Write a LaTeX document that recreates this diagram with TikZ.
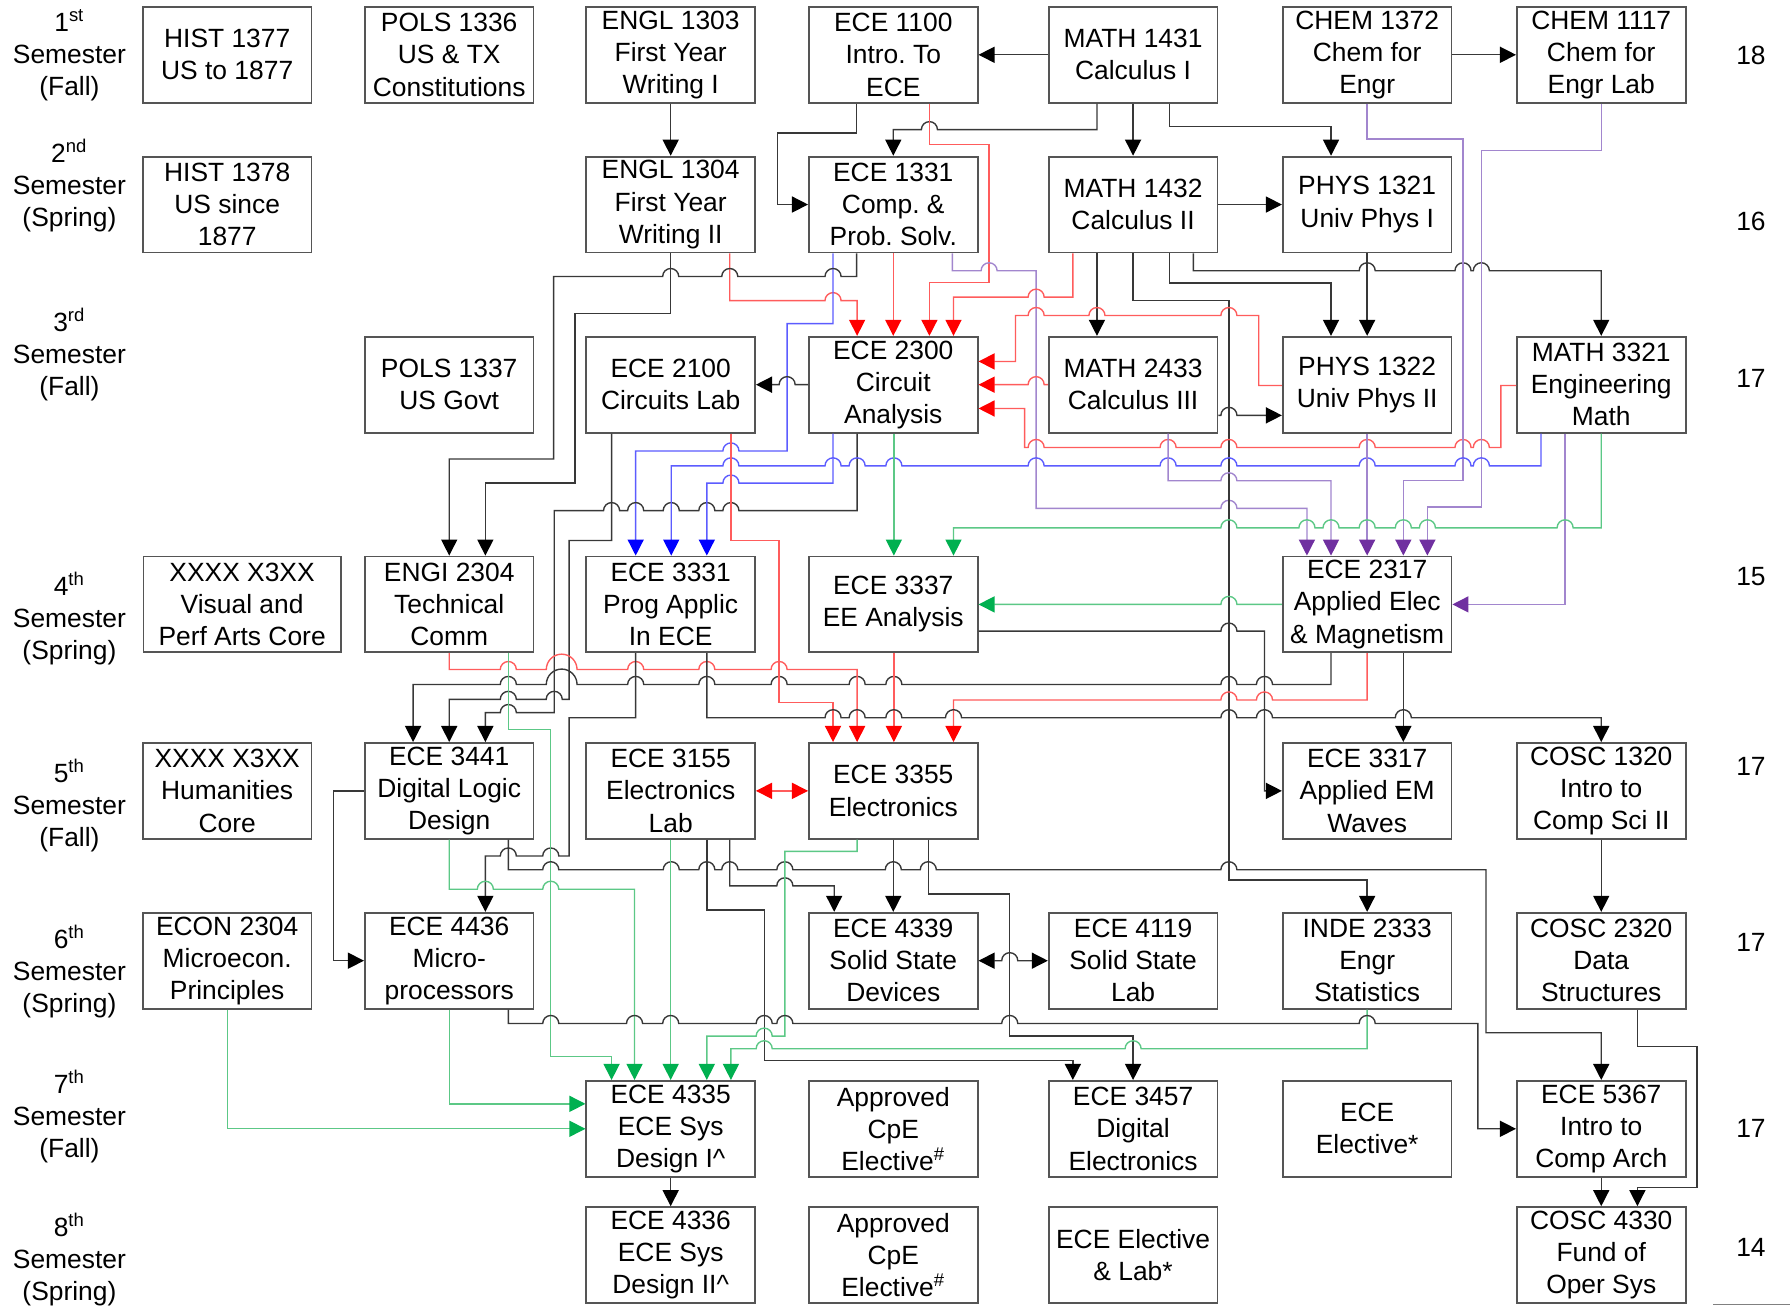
\documentclass[tikz,border=0pt]{standalone}
\usepackage{fontspec}
\setmainfont{Liberation Sans}
\usetikzlibrary{arrows.meta}
\frenchspacing
\definecolor{kc}{HTML}{383838}
\definecolor{bc}{HTML}{555555}
\definecolor{rc}{HTML}{FF5C5C}
\definecolor{rh}{HTML}{FF0000}
\definecolor{blc}{HTML}{5C5CFF}
\definecolor{blh}{HTML}{0000FF}
\definecolor{gc}{HTML}{5CC886}
\definecolor{gh}{HTML}{00B050}
\definecolor{pc}{HTML}{A286CE}
\definecolor{ph}{HTML}{7030A0}
\newcommand\cfont{\fontsize{11.5pt}{14pt}\selectfont\frenchspacing}
% hops on horizontal lines: right-going and left-going
\newcommand\hR[2]{-- ({#1-7},#2) arc[start angle=180,end angle=0,radius=3.5pt]}
\newcommand\hL[2]{-- ({#1+7},#2) arc[start angle=0,end angle=180,radius=3.5pt]}
\newcommand\hRb[2]{-- ({#1-13.4},#2) arc[start angle=180,end angle=0,radius=6.7pt]}
\newcommand\hLb[2]{-- ({#1+13.4},#2) arc[start angle=0,end angle=180,radius=6.7pt]}
\tikzset{
  box/.style={draw=bc, line width=0.8pt, minimum width=73.5pt, minimum height=41.75pt, inner sep=0pt, align=center, font=\cfont},
  lbl/.style={inner sep=0pt, align=center, font=\cfont},
  karr/.style={draw=kc, line width=0.6pt, -{Triangle[length=7pt,width=7pt,color=black]}},
  kdarr/.style={draw=kc, line width=0.6pt, {Triangle[length=7pt,width=7pt,color=black]}-{Triangle[length=7pt,width=7pt,color=black]}},
  rarr/.style={draw=rc, line width=0.6pt, -{Triangle[length=7pt,width=7pt,color=rh]}},
  rdarr/.style={draw=rc, line width=0.6pt, {Triangle[length=7pt,width=7pt,color=rh]}-{Triangle[length=7pt,width=7pt,color=rh]}},
  barr/.style={draw=blc, line width=0.6pt, -{Triangle[length=7pt,width=7pt,color=blh]}},
  garr/.style={draw=gc, line width=0.6pt, -{Triangle[length=7pt,width=7pt,color=gh]}},
  parr/.style={draw=pc, line width=0.6pt, -{Triangle[length=7pt,width=7pt,color=ph]}},
}
\begin{document}
\begin{tikzpicture}[x=0.5pt,y=-0.5pt]
\fill[white] (0,0) rectangle (1560,1140);
\useasboundingbox (0,0) rectangle (1560,1140);

% semester labels
\node[lbl] (s1) at (60.5,48) {1\textsuperscript{st}\\Semester\\(Fall)};
\node[lbl] (s2) at (60.5,162) {2\textsuperscript{nd}\\Semester\\(Spring)};
\node[lbl] (s3) at (60.5,309) {3\textsuperscript{rd}\\Semester\\(Fall)};
\node[lbl] (s4) at (60.5,539) {4\textsuperscript{th}\\Semester\\(Spring)};
\node[lbl] (s5) at (60.5,702) {5\textsuperscript{th}\\Semester\\(Fall)};
\node[lbl] (s6) at (60.5,847) {6\textsuperscript{th}\\Semester\\(Spring)};
\node[lbl] (s7) at (60.5,973) {7\textsuperscript{th}\\Semester\\(Fall)};
\node[lbl] (s8) at (60.5,1098) {8\textsuperscript{th}\\Semester\\(Spring)};

% credits
\node[lbl] (c1) at (1526,48) {18};
\node[lbl] (c2) at (1526,193) {16};
\node[lbl] (c3) at (1526,330) {17};
\node[lbl] (c4) at (1526,502.5) {15};
\node[lbl] (c5) at (1526,668) {17};
\node[lbl] (c6) at (1526,821) {17};
\node[lbl] (c7) at (1526,983) {17};
\node[lbl] (c8) at (1526,1087) {14};
\draw[draw=gray, line width=0.5pt] (1493,1137) -- (1560,1137);

% row 1
\node[box] (hist1377) at (198,47.75) {HIST 1377\\US to 1877};
\node[box] (pols1336) at (391.5,47.75) {POLS 1336\\US \& TX\\Constitutions};
\node[box] (engl1303) at (584.5,47.75) {ENGL 1303\\First Year\\Writing I};
\node[box] (ece1100) at (778.5,47.75) {ECE 1100\\Intro. To\\ECE};
\node[box] (math1431) at (987.5,47.75) {MATH 1431\\Calculus I};
\node[box] (chem1372) at (1191.5,47.75) {CHEM 1372\\Chem for\\Engr};
\node[box] (chem1117) at (1395.5,47.75) {CHEM 1117\\Chem for\\Engr Lab};
% row 2
\node[box] (hist1378) at (198,178.25) {HIST 1378\\US since\\1877};
\node[box] (engl1304) at (584.5,178.25) {ENGL 1304\\First Year\\Writing II};
\node[box] (ece1331) at (778.5,178.25) {ECE 1331\\Comp. \&\\Prob. Solv.};
\node[box] (math1432) at (987.5,178.25) {MATH 1432\\Calculus II};
\node[box] (phys1321) at (1191.5,178.25) {PHYS 1321\\Univ Phys I};
% row 3
\node[box] (pols1337) at (391.5,335.25) {POLS 1337\\US Govt};
\node[box] (ece2100) at (584.5,335.25) {ECE 2100\\Circuits Lab};
\node[box] (ece2300) at (778.5,335.25) {ECE 2300\\Circuit\\Analysis};
\node[box] (math2433) at (987.5,335.25) {MATH 2433\\Calculus III};
\node[box] (phys1322) at (1191.5,335.25) {PHYS 1322\\Univ Phys II};
\node[box] (math3321) at (1395.5,335.25) {MATH 3321\\Engineering\\Math};
% row 4
\node[box, minimum width=86pt] (vpa) at (211,526.75) {XXXX X3XX\\Visual and\\Perf Arts Core};
\node[box] (engi2304) at (391.5,526.75) {ENGI 2304\\Technical\\Comm};
\node[box] (ece3331) at (584.5,526.75) {ECE 3331\\Prog Applic\\In ECE};
\node[box] (ece3337) at (778.5,526.75) {ECE 3337\\EE Analysis};
\node[box] (ece2317) at (1191.5,526.75) {ECE 2317\\Applied Elec\\\& Magnetism};
% row 5
\node[box] (hum) at (198,689.25) {XXXX X3XX\\Humanities\\Core};
\node[box] (ece3441) at (391.5,689.25) {ECE 3441\\Digital Logic\\Design};
\node[box] (ece3155) at (584.5,689.25) {ECE 3155\\Electronics\\Lab};
\node[box] (ece3355) at (778.5,689.25) {ECE 3355\\Electronics};
\node[box] (ece3317) at (1191.5,689.25) {ECE 3317\\Applied EM\\Waves};
\node[box] (cosc1320) at (1395.5,689.25) {COSC 1320\\Intro to\\Comp Sci II};
% row 6
\node[box] (econ2304) at (198,837.25) {ECON 2304\\Microecon.\\Principles};
\node[box] (ece4436) at (391.5,837.25) {ECE 4436\\Micro-\\processors};
\node[box] (ece4339) at (778.5,837.25) {ECE 4339\\Solid State\\Devices};
\node[box] (ece4119) at (987.5,837.25) {ECE 4119\\Solid State\\Lab};
\node[box] (inde2333) at (1191.5,837.25) {INDE 2333\\Engr\\Statistics};
\node[box] (cosc2320) at (1395.5,837.25) {COSC 2320\\Data\\Structures};
% row 7
\node[box] (ece4335) at (584.5,983.75) {ECE 4335\\ECE Sys\\Design I\textasciicircum};
\node[box] (cpe1) at (778.5,983.75) {Approved\\CpE\\Elective\textsuperscript{\#}};
\node[box] (ece3457) at (987.5,983.75) {ECE 3457\\Digital\\Electronics};
\node[box] (eceel) at (1191.5,983.75) {ECE\\Elective*};
\node[box] (ece5367) at (1395.5,983.75) {ECE 5367\\Intro to\\Comp Arch};
% row 8
\node[box] (ece4336) at (584.5,1093.75) {ECE 4336\\ECE Sys\\Design II\textasciicircum};
\node[box] (cpe2) at (778.5,1093.75) {Approved\\CpE\\Elective\textsuperscript{\#}};
\node[box] (eceellab) at (987.5,1093.75) {ECE Elective\\\& Lab*};
\node[box] (cosc4330) at (1395.5,1093.75) {COSC 4330\\Fund of\\Oper Sys};

% ---------- connectors ----------
\draw[karr] (math1431.west) -- (ece1100.east);
\draw[karr] (chem1372.east) -- (chem1117.west);
\draw[karr] (engl1303.south) -- (engl1304.north);
\draw[karr] (ece1100.south -| 746.5,0) -- (746.5,116) -- (677.5,116) -- (677.5,178.25) -- (ece1331.west);
\draw[karr] (math1431.south -| 956,0) -- (956,113) \hL{810}{113} -- (778.5,113) -- (ece1331.north);
\draw[karr] (math1431.south) -- (math1432.north);
\draw[karr] (math1431.south -| 1019,0) -- (1019,110) -- (1160,110) -- (phys1321.north -| 1160,0);
\draw[rarr] (ece1100.south -| 810,0) -- (810,126) -- (862,126) -- (862,246) -- (810,246) -- (ece2300.north -| 810,0);
\draw[rarr] (engl1304.south -| 636,0) -- (636,262) \hR{726}{262} -- (747,262) -- (ece2300.north -| 747,0);
\draw[rarr] (ece1331.south) -- (ece2300.north);
\draw[barr] (ece1331.south -| 726,0) -- (726,282) -- (686,282) -- (686,393) \hL{637}{393} -- (554,393) -- (ece3331.north -| 554,0);
\draw[karr] (ece1331.south -| 746.5,0) -- (746.5,241) \hL{726}{241} \hL{636}{241} \hL{584.5}{241} -- (482.5,241) -- (482.5,400) -- (391.5,400) -- (engi2304.north -| 391.5,0);
\draw[karr] (engl1304.south) -- (584.5,273) -- (501,273) -- (501,421) -- (423,421) -- (engi2304.north -| 423,0);
\draw[karr] (ece2300.west) \hL{686}{335.25} -- (ece2100.east);
\draw[parr] (ece1331.south -| 830,0) -- (830,236) \hR{862}{236} -- (903,236) -- (903,443) \hR{1071}{443} -- (1139,443) -- (ece2317.north -| 1139,0);
\draw[rarr] (math1432.south -| 935,0) -- (935,259) \hL{903}{259} -- (831,259) -- (ece2300.north -| 831,0);
\draw[karr] (math1432.south -| 956,0) -- (math2433.north -| 956,0);
\draw[karr] (math1432.south) -- (987.5,262) -- (1071,262) -- (1071,767) -- (1191.5,767) -- (inde2333.north);
\draw[karr] (math1432.south -| 1019,0) -- (1019,246.5) -- (1160,246.5) -- (phys1322.north -| 1160,0);
\draw[karr] (math1432.south -| 1040,0) -- (1040,236) \hR{1191.5}{236} \hR{1275}{236} \hR{1291}{236} -- (1395.5,236) -- (math3321.north);
\draw[karr] (math1432.east) -- (phys1321.west);
\draw[karr] (phys1321.south) -- (phys1322.north);
\draw[rarr] (phys1322.west |- 0,336) -- (1097,336) -- (1097,275) \hL{1071}{275} \hL{956}{275} \hL{903}{275} -- (885,275) -- (885,315) -- (ece2300.east |- 0,315);
\draw[rarr] (math2433.west) \hL{903}{335.25} -- (ece2300.east);
\draw[rarr] (math3321.west |- 0,336) -- (1308,336) -- (1308,390) \hL{1291}{390} \hL{1275}{390} \hL{1191.5}{390} \hL{1071}{390} \hL{1018}{390} \hL{903}{390} -- (893,390) -- (893,356) -- (ece2300.east |- 0,356);
\draw[karr] (math2433.east |- 0,362) \hR{1071}{362} -- (phys1322.west |- 0,362);
\draw[parr] (chem1372.south) -- (1191.5,121) -- (1275,121) -- (1275,419) -- (1223,419) -- (ece2317.north -| 1223,0);
\draw[parr] (chem1117.south) -- (1395.5,131) -- (1291,131) -- (1291,442) -- (1244,442) -- (ece2317.north -| 1244,0);
\draw[karr] (ece2100.south -| 533,0) -- (533,471) -- (496,471) -- (496,609.5) \hL{483}{609.5} \hL{443}{609.5} -- (391.5,609.5) -- (ece3441.north -| 391.5,0);
\draw[karr] (ece2300.south -| 747,0) -- (747,445) \hL{637}{445} \hL{616}{445} \hL{585}{445} \hL{554}{445} \hL{533}{445} -- (483,445) -- (483,621) \hL{443}{621} -- (423,621) -- (ece3441.north -| 423,0);
\draw[barr] (ece2300.south -| 726,0) -- (726,421) \hL{637}{421} -- (616,421) -- (ece3331.north -| 616,0);
\draw[barr] (math3321.south -| 1343,0) -- (1343,406) \hL{1291}{406} \hL{1275}{406} \hL{1191.5}{406} \hL{1071}{406} \hL{1018}{406} \hL{903}{406} \hL{779}{406} \hL{747}{406} \hL{726}{406} \hL{637}{406} -- (585,406) -- (ece3331.north -| 585,0);
\draw[parr] (math2433.south -| 1018,0) -- (1018,419) \hR{1071}{419} -- (1160,419) -- (ece2317.north -| 1160,0);
\draw[parr] (phys1322.south) -- (ece2317.north);
\draw[parr] (math3321.south -| 1364,0) -- (1364,526.75) -- (ece2317.east);
\draw[garr] (math3321.south) -- (1395.5,460) \hL{1364}{460} \hL{1244}{460} \hL{1223}{460} \hL{1191.5}{460} \hL{1160}{460} \hL{1139}{460} \hL{1071}{460} -- (831,460) -- (ece3337.north -| 831,0);
\draw[garr] (ece2300.south -| 779,0) -- (ece3337.north -| 779,0);
\draw[garr] (ece2317.west) \hL{1071}{526.75} -- (ece3337.east);
\draw[karr] (ece3337.east |- 0,550) \hR{1071}{550} -- (1102,550) -- (1102,689.25) -- (ece3317.west);
\draw[karr] (ece2317.south -| 1160,0) -- (1160,596.5) \hL{1102}{596.5} \hL{1071}{596.5} \hL{779}{596.5} \hL{747}{596.5} \hL{679}{596.5} \hL{616}{596.5} \hL{554}{596.5} \hLb{489.5}{596.5} \hL{443}{596.5} -- (360,596.5) -- (ece3441.north -| 360,0);
\draw[rarr] (ece2100.south -| 637,0) -- (637,471) -- (679,471) -- (679,612) -- (726,612) -- (ece3355.north -| 726,0);
\draw[rarr] (engi2304.south) -- (391.5,583.5) \hR{443}{583.5} \hRb{489.5}{583.5} \hR{554}{583.5} \hR{616}{583.5} \hR{679}{583.5} -- (747,583.5) -- (ece3355.north -| 747,0);
\draw[rarr] (ece3337.south -| 779,0) -- (ece3355.north -| 779,0);
\draw[rarr] (ece2317.south) -- (1191.5,610) \hL{1102}{610} \hL{1071}{610} -- (831,610) -- (ece3355.north -| 831,0);
\draw[karr] (ece3331.south -| 554,0) -- (554,625.5) -- (496,625.5) -- (496,746) \hL{480}{746} \hL{443}{746} -- (423,746) -- (ece4436.north -| 423,0);
\draw[karr] (ece3331.south -| 616,0) -- (616,625.5) \hR{726}{625.5} \hR{747}{625.5} \hR{779}{625.5} \hR{831}{625.5} \hR{1071}{625.5} \hR{1102}{625.5} \hR{1223}{625.5} -- (1395.5,625.5) -- (cosc1320.north);
\draw[karr] (ece2317.south -| 1223,0) -- (ece3317.north -| 1223,0);
\draw[garr] (engi2304.south -| 443,0) -- (443,636) -- (480,636) -- (480,921) -- (533,921) -- (ece4335.north -| 533,0);
\draw[karr] (ece3441.west) -- (290.5,689.25) -- (290.5,837.25) -- (ece4436.west);
\draw[karr] (ece3441.south -| 443,0) -- (443,758) \hR{480}{758} \hR{585}{758} \hR{616}{758} \hR{636}{758} \hR{684}{758} \hR{778.5}{758} \hR{809}{758} \hR{1071}{758} -- (1295,758) -- (1295,900) -- (1395.5,900) -- (ece5367.north);
\draw[garr] (ece3441.south) -- (391.5,775) \hR{423}{775} \hR{480}{775} -- (553,775) -- (ece4335.north -| 553,0);
\draw[garr] (ece3155.south) -- (ece4335.north);
\draw[karr] (ece3155.south -| 616,0) -- (616,793) -- (666,793) -- (666,924) -- (935,924) -- (ece3457.north -| 935,0);
\draw[karr] (ece3155.south -| 636,0) -- (636,772) \hR{684}{772} -- (727,772) -- (ece4339.north -| 727,0);
\draw[rdarr] (ece3155.east) -- (ece3355.west);
\draw[garr] (ece3355.south -| 747,0) -- (747,742) -- (684,742) -- (684,903) \hL{666}{903} -- (616,903) -- (ece4335.north -| 616,0);
\draw[karr] (ece3355.south) -- (ece4339.north);
\draw[karr] (ece3355.south -| 809,0) -- (809,779) -- (880,779) -- (880,903) -- (987.5,903) -- (ece3457.north);
\draw[kdarr] (ece4339.east) \hR{880}{837.25} -- (ece4119.west);
\draw[garr] (inde2333.south) -- (1191.5,914) \hL{987.5}{914} \hL{666}{914} -- (637,914) -- (ece4335.north -| 637,0);
\draw[karr] (ece4436.south -| 443,0) -- (443,892) \hR{480}{892} \hR{553}{892} \hR{584.5}{892} \hR{666}{892} \hR{684}{892} \hR{880}{892} \hR{1191.5}{892} -- (1288,892) -- (1288,983.75) -- (ece5367.west);
\draw[garr] (ece4436.south) -- (391.5,962) -- (ece4335.west |- 0,962);
\draw[garr] (econ2304.south) -- (198,983.75) -- (ece4335.west);
\draw[karr] (ece4335.south) -- (ece4336.north);
\draw[karr] (cosc1320.south) -- (cosc2320.north);
\draw[karr] (cosc2320.south -| 1427,0) -- (1427,912) -- (1479,912) -- (1479,1035) -- (1427,1035) -- (cosc4330.north -| 1427,0);
\draw[karr] (ece5367.south) -- (cosc4330.north);
\end{tikzpicture}
\end{document}
